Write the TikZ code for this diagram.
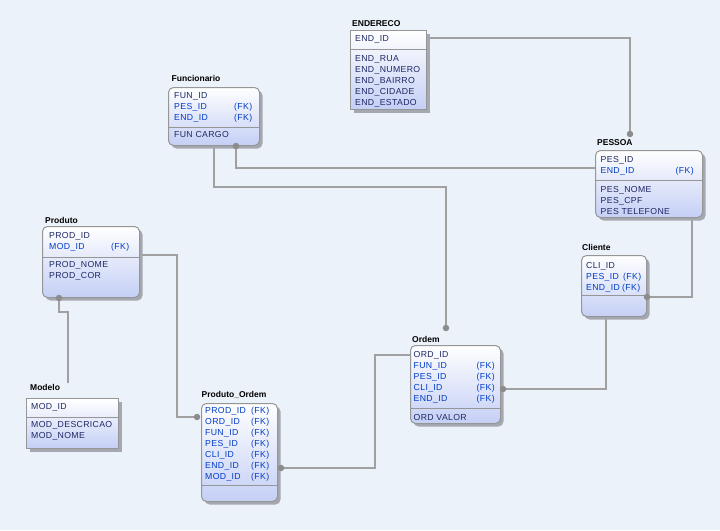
\documentclass[tikz,border=0pt]{standalone}
\usepackage{fontspec}
\setmainfont{Liberation Sans}
\newfontfamily\rowfont{Liberation Sans}[LetterSpace=4]
\newfontfamily\titlefont{Liberation Sans}
\usepackage{tikz}
\usetikzlibrary{shadows}

\definecolor{bgcol}{RGB}{236,242,249}
\definecolor{linkgray}{RGB}{160,160,160}
\definecolor{dotgray}{RGB}{140,140,140}
\definecolor{boxborder}{RGB}{150,150,150}
\definecolor{shadowgray}{RGB}{165,168,176}
\definecolor{boxblue}{RGB}{196,207,245}
\definecolor{pknavy}{RGB}{30,40,100}
\definecolor{fkblue}{RGB}{0,60,200}

\newcommand{\rows}[1]{\begin{tabular}{@{}l@{}}#1\end{tabular}}
\newcommand{\fk}[2]{\textcolor{fkblue}{\makebox[#1][l]{#2}(FK)}}

\pgfdeclarelayer{bg}
\pgfdeclarelayer{lines}
\pgfsetlayers{bg,lines,main}

\begin{document}
\begin{tikzpicture}[x=1pt,y=-1pt,
  entity/.style={draw=boxborder,line width=1pt,rounded corners=5pt,inner sep=0,
    anchor=north west,top color=white,bottom color=boxblue,
    drop shadow={shadow xshift=3pt,shadow yshift=-3pt,fill=shadowgray,opacity=1}},
  title/.style={font=\titlefont\bfseries\fontsize{8.5}{10}\selectfont,inner sep=0,anchor=base west},
  fields/.style={font=\rowfont\fontsize{8.7}{11}\selectfont,text=pknavy,inner sep=0,anchor=north west},
  divline/.style={draw=boxborder,line width=1pt},
  link/.style={draw=linkgray,line width=1.2pt},
  dot/.style={circle,fill=dotgray,inner sep=0,minimum size=6.5pt}]
  \useasboundingbox (0,0) rectangle (720,530);
  \begin{pgfonlayer}{bg}
    \fill[bgcol] (0,0) rectangle (720,530);
  \end{pgfonlayer}

  % ENDERECO
  \node[entity,sharp corners,minimum width=76pt,minimum height=79pt] (endereco) at (350,30) {};
  \node[title] (endereco-t) at (352,26) {ENDERECO};
  \draw[divline] (endereco.west |- 0,49) -- (endereco.east |- 0,49);
  \node[fields] (endereco-k) at (355,34) {\rows{END\_ID}};
  \node[fields] (endereco-a) at (355,53.5) {\rows{END\_RUA\\END\_NUMERO\\END\_BAIRRO\\END\_CIDADE\\END\_ESTADO}};

  % Funcionario
  \node[entity,minimum width=91pt,minimum height=58pt] (funcionario) at (168,87) {};
  \node[title] (funcionario-t) at (171.5,81) {Funcionario};
  \draw[divline] (funcionario.west |- 0,127) -- (funcionario.east |- 0,127);
  \node[fields] (funcionario-k) at (174,90.5) {\rows{FUN\_ID\\\fk{60pt}{PES\_ID}\\\fk{60pt}{END\_ID}}};
  \node[fields] (funcionario-a) at (174,130) {\rows{FUN CARGO}};

  % PESSOA
  \node[entity,minimum width=107pt,minimum height=67pt] (pessoa) at (595,150) {};
  \node[title] (pessoa-t) at (597,145) {PESSOA};
  \draw[divline] (pessoa.west |- 0,180) -- (pessoa.east |- 0,180);
  \node[fields] (pessoa-k) at (600.5,154.5) {\rows{PES\_ID\\\fk{75pt}{END\_ID}}};
  \node[fields] (pessoa-a) at (600.5,184.5) {\rows{PES\_NOME\\PES\_CPF\\PES TELEFONE}};

  % Produto
  \node[entity,minimum width=97pt,minimum height=71pt] (produto) at (42,226) {};
  \node[title] (produto-t) at (45,223) {Produto};
  \draw[divline] (produto.west |- 0,257) -- (produto.east |- 0,257);
  \node[fields] (produto-k) at (49,230.5) {\rows{PROD\_ID\\\fk{62pt}{MOD\_ID}}};
  \node[fields] (produto-a) at (49,259.5) {\rows{PROD\_NOME\\PROD\_COR}};

  % Modelo
  \node[entity,sharp corners,minimum width=92pt,minimum height=50pt] (modelo) at (26,398) {};
  \node[title] (modelo-t) at (30,390) {Modelo};
  \draw[divline] (modelo.west |- 0,417) -- (modelo.east |- 0,417);
  \node[fields] (modelo-k) at (31,402) {\rows{MOD\_ID}};
  \node[fields] (modelo-a) at (31,419.5) {\rows{MOD\_DESCRICAO\\MOD\_NOME}};

  % Produto_Ordem
  \node[entity,minimum width=76pt,minimum height=98pt] (prodordem) at (201,403) {};
  \node[title] (prodordem-t) at (201.5,397.5) {Produto\_Ordem};
  \draw[divline] (prodordem.west |- 0,485) -- (prodordem.east |- 0,485);
  \node[fields] (prodordem-k) at (205,406) {\rows{\fk{46pt}{PROD\_ID}\\\fk{46pt}{ORD\_ID}\\
    \fk{46pt}{FUN\_ID}\\\fk{46pt}{PES\_ID}\\\fk{46pt}{CLI\_ID}\\\fk{46pt}{END\_ID}\\\fk{46pt}{MOD\_ID}}};

  % Ordem
  \node[entity,minimum width=90pt,minimum height=78pt] (ordem) at (410,345) {};
  \node[title] (ordem-t) at (412,342) {Ordem};
  \draw[divline] (ordem.west |- 0,408) -- (ordem.east |- 0,408);
  \node[fields] (ordem-k) at (413.5,349.5) {\rows{ORD\_ID\\\fk{63pt}{FUN\_ID}\\\fk{63pt}{PES\_ID}\\
    \fk{63pt}{CLI\_ID}\\\fk{63pt}{END\_ID}}};
  \node[fields] (ordem-a) at (413.5,412.5) {\rows{ORD VALOR}};

  % Cliente
  \node[entity,minimum width=65pt,minimum height=61pt] (cliente) at (581,255) {};
  \node[title] (cliente-t) at (582,250) {Cliente};
  \draw[divline] (cliente.west |- 0,295) -- (cliente.east |- 0,295);
  \node[fields] (cliente-k) at (586,260.5) {\rows{CLI\_ID\\\fk{37pt}{PES\_ID}\\\fk{36pt}{END\_ID}}};

  % relationship ends
  \node[dot] (d-pessoa) at (630,134) {};
  \node[dot] (d-funcionario) at (236,146) {};
  \node[dot] (d-ordem) at (446,328) {};
  \node[dot] (d-prodordem) at (197,417) {};
  \node[dot] (d-produto) at (59,298) {};
  \node[dot] (d-prodordem2) at (281,468) {};
  \node[dot] (d-ordem2) at (503,389) {};
  \node[dot] (d-cliente) at (647,297) {};
  \coordinate (modelo-top) at (68,383);

  \begin{pgfonlayer}{lines}
    \draw[link] (endereco.east |- 0,38) -| (d-pessoa);
    \draw[link] (d-funcionario) |- (pessoa.west |- 0,168);
    \draw[link] (funcionario.south -| 214,0) |- (d-ordem |- 0,187) -- (d-ordem);
    \draw[link] (produto.east |- 0,255) -- (177,255) |- (d-prodordem);
    \draw[link] (d-produto) -- (59,312) -| (modelo-top);
    \draw[link] (d-prodordem2) -- (375,468) |- (ordem.west |- 0,355);
    \draw[link] (d-ordem2) -| (cliente.south -| 606,0);
    \draw[link] (d-cliente) -| (pessoa.south -| 692,0);
  \end{pgfonlayer}
\end{tikzpicture}
\end{document}
